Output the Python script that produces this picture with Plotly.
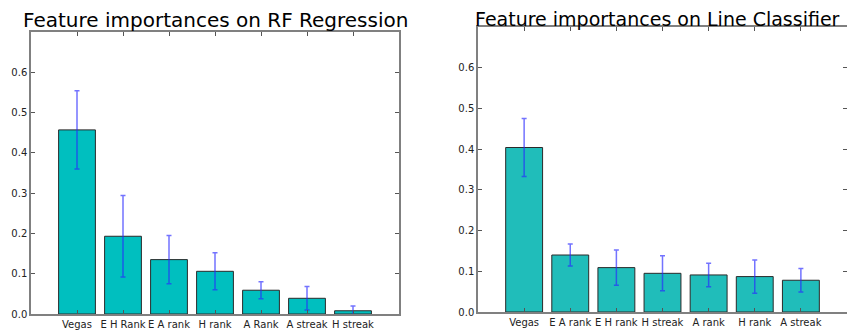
import plotly.graph_objects as go

# Left chart: RF Regression
rf_features = ["Vegas", "E H Rank", "E A rank", "H rank", "A Rank", "A streak", "H streak"]
rf_importance = [0.457, 0.193, 0.135, 0.106, 0.059, 0.039, 0.008]
rf_std = [0.097, 0.101, 0.060, 0.046, 0.021, 0.029, 0.012]

# Right chart: Line Classifier
lc_features = ["Vegas", "E A rank", "E H rank", "H streak", "A rank", "H rank", "A streak"]
lc_importance = [0.404, 0.140, 0.109, 0.095, 0.091, 0.087, 0.078]
lc_std = [0.071, 0.027, 0.043, 0.043, 0.029, 0.041, 0.029]

y_ticks = [0.0, 0.1, 0.2, 0.3, 0.4, 0.5, 0.6]

FONT = "DejaVu Sans"
fig = go.Figure()

fig.add_trace(go.Bar(
    x=rf_features, y=rf_importance, xaxis="x", yaxis="y", width=0.8,
    marker=dict(color="#00BFBF", line=dict(color="#2a2a2a", width=1)),
    error_y=dict(type="data", array=rf_std, color="rgba(40,40,255,0.65)", thickness=1.5, width=2.5),
    showlegend=False,
))
fig.add_trace(go.Bar(
    x=lc_features, y=lc_importance, xaxis="x2", yaxis="y2", width=0.8,
    marker=dict(color="#20BDBA", line=dict(color="#2a2a2a", width=1)),
    error_y=dict(type="data", array=lc_std, color="rgba(40,40,255,0.65)", thickness=1.5, width=2.5),
    showlegend=False,
))

common_x = dict(type="category", range=[-1, 7], showline=True, linecolor="#808080", linewidth=1.5,
                mirror="allticks", ticks="inside", ticklen=4, tickcolor="#555555", showgrid=False,
                zeroline=False, tickangle=0, automargin=False,
                tickfont=dict(family=FONT, size=10, color="#222222"), fixedrange=True)
common_y = dict(range=[0, 0.7], tickvals=y_ticks, tickformat=".1f", showline=True, linecolor="#808080",
                linewidth=1.5, mirror="allticks", ticks="inside", ticklen=4, tickcolor="#555555",
                showgrid=False, zeroline=False, automargin=False,
                tickfont=dict(family=FONT, size=10, color="#222222"))

W, H = 855, 331
OFF = 8  # page body margin offset


def px_x(p):
    return (p - OFF) / W


def px_y(p):
    return (H - (p - OFF)) / H


fig.update_layout(
    width=W, height=H,
    margin=dict(l=0, r=0, t=0, b=0, autoexpand=False),
    paper_bgcolor="white", plot_bgcolor="white",
    xaxis=dict(domain=[px_x(31), px_x(399)], anchor="y", **common_x),
    yaxis=dict(domain=[px_y(314), px_y(32)], anchor="x", **common_y),
    xaxis2=dict(domain=[px_x(478), px_x(847)], anchor="y2", **common_x),
    yaxis2=dict(domain=[px_y(312), px_y(27)], anchor="x2", **common_y),
    annotations=[
        dict(text="Feature importances on RF Regression", x=px_x(215), y=px_y(20),
             xref="paper", yref="paper", xanchor="center", yanchor="middle", showarrow=False,
             font=dict(family=FONT, size=20, color="black")),
        dict(text="Feature importances on Line Classifier", x=px_x(657), y=px_y(19),
             xref="paper", yref="paper", xanchor="center", yanchor="middle", showarrow=False,
             font=dict(family=FONT, size=19, color="black")),
    ],
)

fig.write_html("out.html")
